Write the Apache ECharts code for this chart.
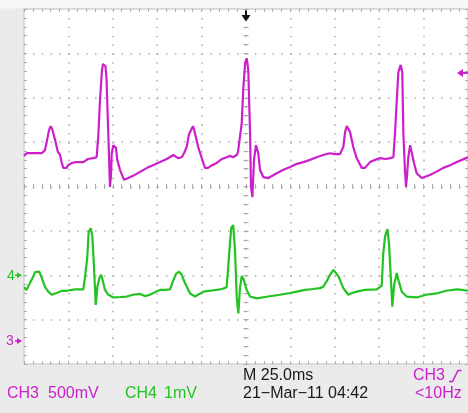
<!DOCTYPE html>
<html>
<head>
<meta charset="utf-8">
<script src="https://cdn.jsdelivr.net/npm/echarts@6/dist/echarts.min.js"></script>
<style>
html,body{margin:0;padding:0;background:#ebebeb;}
#c{width:468px;height:413px;}
</style>
</head>
<body>
<div id="c"></div>
<script>
// Time relative to trigger (ms), 25 ms/div
const timeMin = -125, timeMax = 125, timeStep = 25;
// Vertical scale in divisions
const divMin = -4, divMax = 4;

// CH3 (500 mV/div) trace, values in divisions
const ch3Time = [-125.0,-123.5,-115.0,-114.3,-113.2,-112.0,-110.9,-110.0,-109.2,-107.5,-105.9,-104.7,-103.8,-102.9,-101.0,-100.2,-98.1,-95.7,-91.6,-89.0,-86.1,-84.1,-83.2,-82.2,-81.1,-80.5,-79.8,-79.1,-78.5,-78.1,-77.3,-76.6,-76.0,-75.6,-74.7,-73.8,-73.2,-72.5,-70.9,-68.7,-66.3,-63.6,-59.7,-55.7,-52.4,-48.4,-44.6,-40.9,-38.3,-36.2,-34.9,-33.4,-32.1,-30.6,-29.8,-28.7,-26.9,-24.9,-23.1,-21.4,-19.1,-16.5,-13.5,-10.9,-9.0,-7.3,-5.2,-4.5,-3.4,-2.4,-1.5,-0.5,0.4,1.3,2.3,2.8,3.6,4.5,5.6,6.9,7.9,9.8,12.6,17.3,20.8,24.8,28.7,32.3,36.0,39.8,43.4,47.3,50.1,52.9,54.8,55.8,56.7,57.4,58.6,60.4,62.3,65.2,67.0,69.8,72.7,75.5,78.8,81.1,83.0,83.9,84.9,85.8,87.1,88.0,88.6,89.5,90.1,90.7,91.4,92.4,93.3,94.6,96.1,98.9,103.6,107.0,111.1,114.9,118.7,121.6,125.0];
const ch3Div = [0.69,0.75,0.75,0.71,0.82,1.05,1.27,1.36,1.30,1.05,0.78,0.71,0.55,0.42,0.42,0.48,0.53,0.55,0.55,0.62,0.64,0.66,1.11,1.95,2.62,2.76,2.78,2.71,2.40,1.88,0.89,-0.01,0.26,0.75,0.93,0.91,0.87,0.60,0.37,0.15,0.19,0.24,0.33,0.42,0.48,0.55,0.62,0.71,0.64,0.66,0.75,0.89,1.18,1.30,1.36,1.20,0.89,0.64,0.42,0.42,0.48,0.53,0.62,0.66,0.69,0.66,0.71,0.78,0.82,1.43,2.22,2.78,2.89,2.62,1.20,-0.01,-0.24,0.60,0.93,0.75,0.37,0.21,0.19,0.30,0.37,0.44,0.51,0.55,0.60,0.66,0.71,0.75,0.73,0.73,0.89,1.23,1.36,1.34,1.23,0.89,0.64,0.42,0.42,0.55,0.60,0.64,0.62,0.64,0.66,1.20,1.95,2.58,2.74,2.58,1.20,0.37,-0.01,0.26,0.66,0.93,0.89,0.53,0.30,0.19,0.26,0.33,0.42,0.48,0.55,0.60,0.66];

// CH4 (1 mV/div) trace, values in divisions
const ch4Time = [-125.0,-123.5,-122.5,-121.6,-119.8,-118.8,-117.8,-116.4,-115.0,-113.2,-111.3,-109.4,-106.6,-103.6,-101.0,-96.3,-91.6,-90.7,-89.4,-88.6,-87.4,-86.5,-85.6,-84.6,-83.7,-82.6,-81.6,-80.7,-79.4,-77.5,-74.7,-70.9,-67.2,-63.6,-59.7,-56.9,-54.1,-51.2,-48.4,-45.6,-42.8,-40.9,-39.4,-37.7,-36.2,-34.3,-31.5,-28.7,-24.0,-20.3,-16.5,-13.5,-10.9,-10.0,-9.0,-8.3,-7.2,-6.2,-5.2,-4.3,-3.4,-2.4,-1.5,0.4,2.3,6.0,10.7,19.1,24.8,28.6,33.2,37.7,41.7,43.4,45.4,47.3,49.2,50.1,52.0,54.8,57.6,59.7,62.3,67.0,73.6,76.4,77.3,78.3,79.6,80.5,81.5,82.4,83.4,84.9,85.8,87.7,90.5,96.1,101.4,107.4,112.6,118.7,121.6,125.0];
const ch4Div = [-2.27,-2.33,-2.24,-2.22,-2.03,-1.93,-1.90,-1.92,-2.06,-2.26,-2.37,-2.44,-2.40,-2.35,-2.35,-2.32,-2.32,-2.06,-1.61,-1.02,-0.94,-1.13,-1.81,-2.67,-2.26,-2.07,-1.99,-2.11,-2.33,-2.44,-2.50,-2.49,-2.48,-2.44,-2.42,-2.47,-2.44,-2.38,-2.33,-2.33,-2.32,-2.11,-1.97,-1.92,-1.99,-2.18,-2.41,-2.48,-2.37,-2.35,-2.33,-2.31,-2.27,-1.81,-1.27,-0.93,-0.87,-1.43,-2.51,-2.86,-2.29,-2.02,-2.07,-2.33,-2.48,-2.52,-2.49,-2.44,-2.40,-2.37,-2.33,-2.31,-2.29,-2.26,-2.14,-1.99,-1.88,-1.92,-2.02,-2.29,-2.44,-2.40,-2.37,-2.33,-2.32,-2.24,-1.50,-1.13,-0.96,-1.27,-2.03,-2.71,-2.22,-1.95,-2.11,-2.37,-2.48,-2.50,-2.44,-2.41,-2.35,-2.32,-2.33,-2.35];

// Reference markers (divisions / ms)
const ch3GroundDiv = -3.48;
const ch4GroundDiv = -2.0;
const triggerLevelDiv = 2.56;
const triggerTime = 0;

// Readout texts
const readoutTimebase = 'M 25.0ms';
const readoutDate = '21\u2212Mar\u221211 04:42';
const readoutCh3 = ['CH3', '500mV'];
const readoutCh4 = ['CH4', '1mV'];
const readoutTrig = ['CH3', '<10Hz'];

const MAG = '#cc1fcc';
const GRN = '#22c322';
const TICK = '#ababab';
const FONT = '16px "Liberation Sans", Arial, sans-serif';

const chart = echarts.init(document.getElementById('c'), null, {renderer: 'canvas'});

function tickCfg(inside, len) {
  return {
    axisTick: {show: true, inside: inside, length: len, lineStyle: {color: TICK, width: 1}},
    minorTick: {show: true, splitNumber: 5, length: len, lineStyle: {color: TICK, width: 1}}
  };
}
const dotted = {show: true, lineStyle: {color: '#b2b2b2', width: 1.6, type: [1.6, 7.275]}};

function xAx(opt) {
  return Object.assign({
    type: 'value', min: timeMin, max: timeMax, interval: timeStep,
    axisLabel: {show: false}, splitLine: {show: false}
  }, opt);
}
function yAx(opt) {
  return Object.assign({
    type: 'value', min: divMin, max: divMax, interval: 1,
    axisLabel: {show: false}, splitLine: {show: false}
  }, opt);
}
const borderLine = {show: true, onZero: false, lineStyle: {color: '#d2d2d2', width: 1.5}};
const centerLine = {show: false, onZero: true, onZeroAxisIndex: 0};

chart.setOption({
  backgroundColor: '#ebebeb',
  animation: false,
  grid: {left: 24, top: 9, right: 0, bottom: 49, show: true, backgroundColor: '#ffffff', borderWidth: 0},
  xAxis: [
    xAx(Object.assign({position: 'bottom', axisLine: borderLine, splitLine: dotted}, tickCfg(true, 3))),
    xAx(Object.assign({position: 'top', axisLine: borderLine}, tickCfg(true, 3))),
    xAx(Object.assign({position: 'bottom', axisLine: centerLine}, tickCfg(true, 2.5))),
    xAx(Object.assign({position: 'bottom', axisLine: centerLine}, tickCfg(false, 2.5)))
  ],
  yAxis: [
    yAx(Object.assign({position: 'left', axisLine: borderLine, splitLine: dotted}, tickCfg(true, 3))),
    yAx(Object.assign({position: 'right', axisLine: borderLine}, tickCfg(true, 3))),
    yAx(Object.assign({position: 'left', axisLine: centerLine}, tickCfg(true, 2.5))),
    yAx(Object.assign({position: 'left', axisLine: centerLine}, tickCfg(false, 2.5)))
  ],
  series: [
    {
      name: 'CH3', type: 'line', xAxisIndex: 0, yAxisIndex: 0, showSymbol: false, z: 5,
      lineStyle: {color: MAG, width: 2.2}, itemStyle: {color: MAG},
      data: ch3Time.map((t, i) => [t, ch3Div[i]])
    },
    {
      name: 'CH4', type: 'line', xAxisIndex: 0, yAxisIndex: 0, showSymbol: false, z: 5,
      lineStyle: {color: GRN, width: 2.2}, itemStyle: {color: GRN},
      data: ch4Time.map((t, i) => [t, ch4Div[i]])
    }
  ]
});

// Markers placed through the chart's own scales
const P = (x, y) => chart.convertToPixel({xAxisIndex: 0, yAxisIndex: 0}, [x, y]);
const trigTop = P(triggerTime, divMax);
const leftX = P(timeMin, 0)[0];
const rightX = P(timeMax, 0)[0];
const y4 = P(timeMin, ch4GroundDiv)[1];
const y3 = P(timeMin, ch3GroundDiv)[1];
const yT = P(timeMax, triggerLevelDiv)[1];
const tx = trigTop[0], ty = trigTop[1];

function txt(x, y, s, color, align) {
  return {type: 'text', x: x, y: y, z: 20, style: {text: s, fill: color, font: FONT, align: align || 'left', verticalAlign: 'middle'}};
}

chart.setOption({
  graphic: [
    {type: 'rect', z: 0, shape: {x: 0, y: 0, width: 468, height: ty - 0.5}, style: {fill: '#f8f8f8'}},
    // trigger position arrow (top)
    {type: 'rect', z: 20, shape: {x: tx - 1, y: ty + 1.5, width: 2, height: 6}, style: {fill: '#111'}},
    {type: 'polygon', z: 20, shape: {points: [[tx - 4.5, ty + 6], [tx + 4.5, ty + 6], [tx, ty + 12.5]]}, style: {fill: '#111'}},
    // channel ground markers
    {type: 'text', x: 7, y: y4 + 0.5, z: 20, style: {text: '4', fill: GRN, font: '14px "Liberation Sans", Arial, sans-serif', verticalAlign: 'middle'}},
    {type: 'polygon', z: 20, shape: {points: [[leftX - 7, y4 - 3], [leftX - 2, y4], [leftX - 7, y4 + 3]]}, style: {fill: GRN}},
    {type: 'rect', z: 20, shape: {x: leftX - 9, y: y4 - 0.75, width: 3, height: 1.5}, style: {fill: GRN}},
    {type: 'text', x: 6, y: y3 + 0.5, z: 20, style: {text: '3', fill: MAG, font: '14px "Liberation Sans", Arial, sans-serif', verticalAlign: 'middle'}},
    {type: 'polygon', z: 20, shape: {points: [[leftX - 7, y3 - 3], [leftX - 2, y3], [leftX - 7, y3 + 3]]}, style: {fill: MAG}},
    {type: 'rect', z: 20, shape: {x: leftX - 9, y: y3 - 0.75, width: 3, height: 1.5}, style: {fill: MAG}},
    // trigger level marker (right)
    {type: 'polygon', z: 20, shape: {points: [[rightX - 11, yT], [rightX - 5, yT - 4], [rightX - 5, yT + 4]]}, style: {fill: MAG}},
    {type: 'rect', z: 20, shape: {x: rightX - 6, y: yT - 1, width: 6, height: 2}, style: {fill: MAG}},
    // readouts
    txt(243, 376, readoutTimebase, '#1a1a1a'),
    txt(243, 394, readoutDate, '#1a1a1a'),
    txt(7, 394, readoutCh3[0], MAG),
    txt(48, 394, readoutCh3[1], MAG),
    txt(125, 394, readoutCh4[0], GRN),
    txt(164, 394, readoutCh4[1], GRN),
    txt(413, 376, readoutTrig[0], MAG),
    txt(415, 394, readoutTrig[1], MAG),
    {type: 'polyline', z: 20, shape: {points: [[449, 381.5], [452.5, 381.5], [458, 370.5], [461.5, 370.5]]}, style: {stroke: MAG, lineWidth: 1.5, fill: null}}
  ]
});
</script>
</body>
</html>
